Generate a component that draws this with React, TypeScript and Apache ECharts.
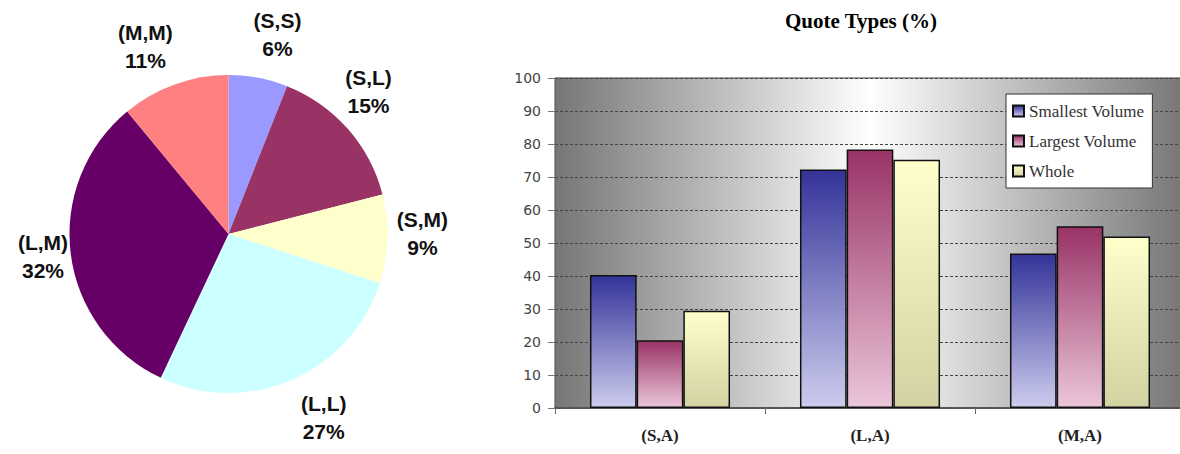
import React, { useEffect, useRef } from "react";
import * as echarts from "echarts";

// Pie: share of quote pairs
const pieCategories = ["(S,S)", "(S,L)", "(S,M)", "(L,L)", "(L,M)", "(M,M)"];
const pieValues = [6, 15, 9, 27, 32, 11];
const pieColors = ["#9999ff", "#993366", "#ffffcc", "#ccffff", "#660066", "#ff8080"];
// distance of each label from the pie's rim, and a small nudge [dx, dy]
const pieLabelGap = [44, 41, 32, 48, 28, 45];
const pieLabelNudge = [
  [11, 0],
  [-10, -10],
  [3, -6],
  [13, -6],
  [0, -1],
  [-14, 4],
];

// Bars: quote types (%)
const barCategories = ["(S,A)", "(L,A)", "(M,A)"];
const seriesNames = ["Smallest Volume", "Largest Volume", "Whole"];
const smallestVolume = [40.3, 72.3, 46.8];
const largestVolume = [20.5, 78.3, 55.1];
const whole = [29.5, 75.2, 52.0];
const yMin = 0;
const yMax = 100;
const yStep = 10;

const vGrad = (top: string, bottom: string) =>
  new echarts.graphic.LinearGradient(0, 0, 0, 1, [
    { offset: 0, color: top },
    { offset: 1, color: bottom },
  ]);

export default function App() {
  const ref = useRef<HTMLDivElement>(null);

  useEffect(() => {
    if (!ref.current) return;
    const chart = echarts.init(ref.current, undefined, { renderer: "svg" });

    const barFills = [
      vGrad("#333399", "#ccccee"),
      vGrad("#993366", "#ebc6da"),
      vGrad("#ffffcc", "#d2d2a2"),
    ];
    const barData = [smallestVolume, largestVolume, whole];

    chart.setOption({
      animation: false,
      backgroundColor: "#ffffff",
      title: {
        text: "Quote Types (%)",
        left: 856,
        top: 5,
        textAlign: "center",
        textStyle: {
          fontFamily: "Liberation Serif, Times New Roman, serif",
          fontWeight: "bold",
          fontSize: 21,
          color: "#000",
        },
      },
      legend: {
        orient: "vertical",
        left: 1006,
        top: 94,
        padding: [8, 8, 8, 6],
        itemGap: 12,
        itemWidth: 11,
        itemHeight: 11,
        backgroundColor: "#ffffff",
        borderColor: "#333",
        borderWidth: 1,
        icon: "rect",
        data: seriesNames,
        textStyle: {
          fontFamily: "Liberation Serif, Times New Roman, serif",
          fontSize: 17,
          lineHeight: 18,
          color: "#333",
        },
      },
      grid: {
        left: 555,
        right: 5,
        top: 78,
        bottom: 46,
        show: true,
        borderColor: "#444",
        borderWidth: 1,
        backgroundColor: new echarts.graphic.LinearGradient(0, 0, 1, 0, [
          { offset: 0, color: "#767676" },
          { offset: 0.5, color: "#ffffff" },
          { offset: 1, color: "#767676" },
        ]),
      },
      xAxis: {
        type: "category",
        data: barCategories,
        boundaryGap: true,
        axisLine: { show: true, lineStyle: { color: "#555", width: 2 } },
        axisTick: { show: true, length: 6, lineStyle: { color: "#666" } },
        axisLabel: {
          margin: 19,
          fontFamily: "Liberation Serif, Times New Roman, serif",
          fontWeight: "bold",
          fontSize: 17,
          color: "#222",
        },
      },
      yAxis: {
        type: "value",
        min: yMin,
        max: yMax,
        interval: yStep,
        axisLine: { show: true, lineStyle: { color: "#666" } },
        axisTick: { show: true, length: 7, lineStyle: { color: "#777" } },
        axisLabel: {
          margin: 14,
          fontFamily: "DejaVu Sans, Verdana, sans-serif",
          fontSize: 14,
          color: "#444",
        },
        splitLine: {
          show: true,
          lineStyle: { color: "#444", type: [3, 2], width: 1 },
        },
      },
      series: [
        ...barData.map((values, i) => ({
          type: "bar",
          name: seriesNames[i],
          data: values,
          barGap: "0%",
          barCategoryGap: "33.3%",
          itemStyle: {
            color: barFills[i],
            borderColor: "#111",
            borderWidth: 1.5,
          },
        })),
        {
          type: "pie",
          center: [228.5, 234],
          radius: 159,
          startAngle: 90,
          clockwise: true,
          avoidLabelOverlap: false,
          data: pieCategories.map((name, i) => ({
            name,
            value: pieValues[i],
            itemStyle: { color: pieColors[i] },
            labelLine: { length: pieLabelGap[i] },
          })),
          label: {
            show: true,
            position: "outside",
            formatter: "{b}\n{c}%",
            distanceToLabelLine: 0,
            fontFamily: "Liberation Sans, Arial, sans-serif",
            fontWeight: "bold",
            fontSize: 21,
            lineHeight: 28,
            color: "#111",
          },
          labelLine: { show: false, length: 40, length2: 0 },
          labelLayout: (p: any) => ({
            align: "center",
            verticalAlign: "middle",
            dx: pieLabelNudge[p.dataIndex][0],
            dy: pieLabelNudge[p.dataIndex][1],
          }),
          emphasis: { disabled: true },
        },
      ],
    });

    return () => chart.dispose();
  }, []);

  return (
    <div
      style={{
        position: "fixed",
        left: 0,
        top: 0,
        width: 1180,
        height: 454,
        overflow: "hidden",
        background: "#fff",
      }}
    >
      <div ref={ref} style={{ width: 1190, height: 454 }} />
    </div>
  );
}
